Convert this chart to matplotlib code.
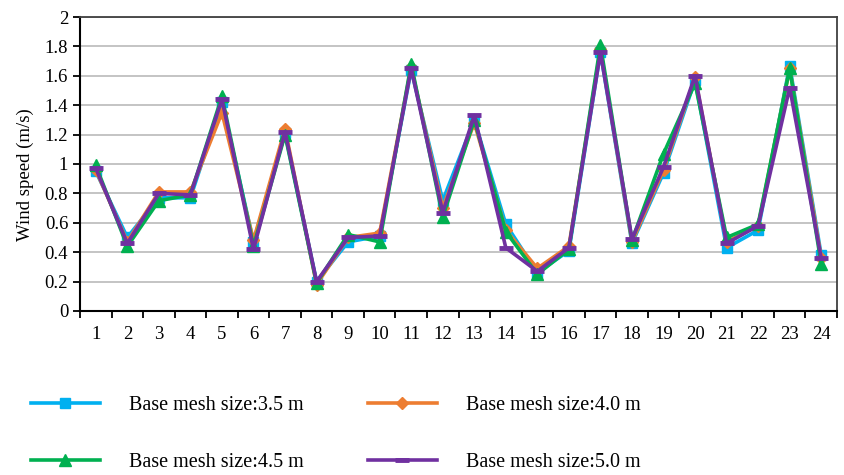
import matplotlib.pyplot as plt
import numpy as np

plt.rcParams['font.family'] = ['Liberation Serif', 'DejaVu Serif']

points = list(range(1, 25))
mesh_35 = [0.95, 0.50, 0.77, 0.77, 1.42, 0.47, 1.21, 0.20, 0.47, 0.51, 1.64, 0.75,
           1.30, 0.59, 0.26, 0.41, 1.76, 0.46, 0.94, 1.57, 0.43, 0.55, 1.67, 0.38]
mesh_40 = [0.96, 0.47, 0.81, 0.81, 1.35, 0.48, 1.24, 0.18, 0.50, 0.53, 1.66, 0.70,
           1.28, 0.55, 0.29, 0.44, 1.78, 0.47, 0.96, 1.59, 0.47, 0.58, 1.65, 0.36]
mesh_45 = [0.99, 0.44, 0.75, 0.79, 1.46, 0.44, 1.20, 0.19, 0.52, 0.47, 1.68, 0.64,
           1.30, 0.54, 0.25, 0.42, 1.81, 0.48, 1.07, 1.55, 0.50, 0.59, 1.65, 0.32]
mesh_50 = [0.97, 0.46, 0.80, 0.79, 1.44, 0.42, 1.22, 0.20, 0.50, 0.51, 1.65, 0.67,
           1.33, 0.43, 0.27, 0.43, 1.76, 0.49, 0.98, 1.60, 0.46, 0.58, 1.52, 0.36]
labels = ['Base mesh size:3.5 m', 'Base mesh size:4.0 m',
          'Base mesh size:4.5 m', 'Base mesh size:5.0 m']

fig = plt.figure(figsize=(8.44, 4.75), dpi=100)
ax = fig.add_axes([0.0948, 0.3453, 0.8969, 0.6189])

l1, = ax.plot(points, mesh_35, color='#00B0F0', lw=2.6, marker='s', ms=7, label=labels[0])
l2, = ax.plot(points, mesh_40, color='#ED7D31', lw=2.6, marker='D', ms=6, label=labels[1])
l3, = ax.plot(points, mesh_45, color='#00B050', lw=2.6, marker='^', ms=8, label=labels[2])
l4, = ax.plot(points, mesh_50, color='#7030A0', lw=2.6, marker='_', ms=10, mew=3.5, label=labels[3])

ax.set_xlim(0.5, 24.5)
ax.set_ylim(0, 2)
ax.set_yticks(np.arange(0, 2.01, 0.2))
ax.set_yticklabels(['0', '0.2', '0.4', '0.6', '0.8', '1', '1.2', '1.4', '1.6', '1.8', '2'])
ax.set_xticks(points)
ax.set_xticks(np.arange(0.5, 24.6, 1), minor=True)
ax.tick_params(axis='x', which='major', length=0, pad=11, labelsize=13.5)
ax.tick_params(axis='x', which='minor', length=5, width=1.3, direction='out')
ax.tick_params(axis='y', length=5, width=1.3, labelsize=13.5)
ax.yaxis.grid(True, color='#BFBFBF', lw=1.3)
ax.set_axisbelow(True)
for s in ['left', 'bottom']:
    ax.spines[s].set_linewidth(1.5)
for s in ['top', 'right']:
    ax.spines[s].set_color('#404040')
    ax.spines[s].set_linewidth(1.3)
ax.set_ylabel('Wind speed (m/s)', fontsize=13.5)
ax.yaxis.set_label_coords(-0.061, 0.464)

# rows: 3.5 / 4.0 on top, 4.5 / 5.0 below
fig.legend([l1, l3, l2, l4], [labels[0], labels[2], labels[1], labels[3]],
           loc='center left', bbox_to_anchor=(0.037, 0.0863), ncol=2, frameon=False,
           fontsize=14.5, handlelength=3.4, handletextpad=1.45, columnspacing=3.2,
           labelspacing=1.9, borderpad=0, borderaxespad=0)

fig.savefig('out.png', dpi=100)
